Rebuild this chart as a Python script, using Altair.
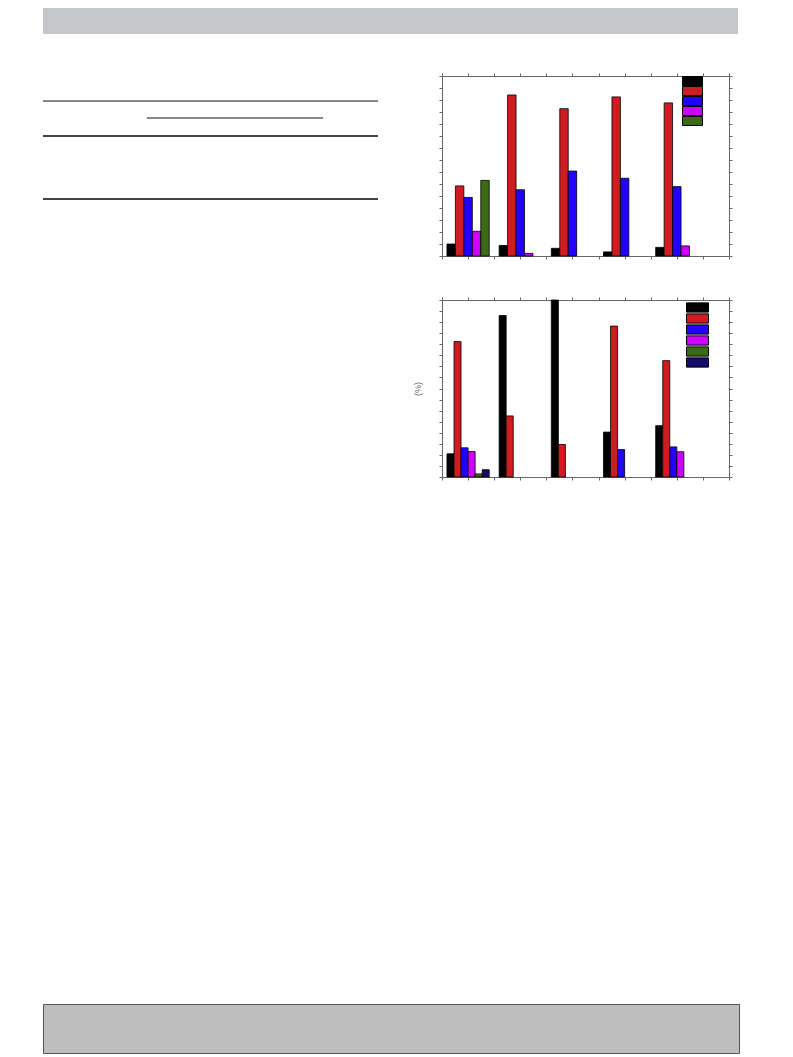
import altair as alt
import pandas as pd

# ---------------- data ----------------
groups = [1, 2, 3, 4, 5]

# upper panel (5 series, %)
top_names = ["S1", "S2", "S3", "S4", "S5"]
top_colors = ["#000000", "#d01c20", "#2400ff", "#cc00ff", "#3a6b14"]
top_black = [5.0, 4.4, 3.2, 1.7, 3.6]
top_red = [29.2, 67.1, 61.4, 66.3, 63.8]
top_blue = [24.4, 27.6, 35.4, 32.4, 28.9]
top_magenta = [10.3, 1.1, 0, 0, 4.2]
top_green = [31.5, 0, 0, 0, 0]

# lower panel (6 series, %)
bot_names = ["T1", "T2", "T3", "T4", "T5", "T6"]
bot_colors = ["#000000", "#d01c20", "#2400ff", "#cc00ff", "#3a6b14", "#140b6c"]
bot_black = [10.5, 73.0, 80.0, 20.3, 23.2]
bot_red = [61.2, 27.6, 14.7, 68.2, 52.6]
bot_blue = [13.2, 0, 0, 12.4, 13.6]
bot_magenta = [11.5, 0, 0, 0, 11.4]
bot_green = [1.4, 0, 0, 0, 0]
bot_navy = [3.3, 0, 0, 0, 0]

x_ticks = [0.5 * i for i in range(1, 13)]
top_y_ticks = list(range(0, 80, 5))
bot_y_ticks = list(range(0, 85, 5))

# rules of the (text-less) table on the left
rule_pos = [25, 42, 60, 123]
rule_from = [0.0, 0.31, 0.0, 0.0]
rule_to = [1.0, 0.836, 1.0, 1.0]
rule_kind = ["thin", "thin", "thick", "thick"]

GROUP_SPAN = 0.81


def long_table(names, series):
    rows = []
    n = len(series)
    w = GROUP_SPAN / n
    for k, (name, vals) in enumerate(zip(names, series)):
        for g, v in zip(groups, vals):
            if v > 0:
                x0 = g - GROUP_SPAN / 2 + k * w
                rows.append({"g": g, "series": name, "v": v, "x0": x0, "x1": x0 + w})
    return pd.DataFrame(rows)


df_top = long_table(top_names, [top_black, top_red, top_blue, top_magenta, top_green])
df_bot = long_table(bot_names, [bot_black, bot_red, bot_blue, bot_magenta, bot_green, bot_navy])

FRAME = "#666666"
TICK = "#666666"


def axis(orient, values, title=None):
    kw = dict(orient=orient, values=values, labels=False, domain=False, grid=False,
              ticks=True, tickSize=3, tickColor=TICK, tickWidth=1)
    if title is None:
        kw["title"] = None
    else:
        kw.update(title=title, titleFont="Liberation Sans", titleFontSize=9,
                  titleFontWeight="normal", titleColor="#666666", titlePadding=16)
    return alt.Axis(**kw)


def panel(df, names, colors, ymax, yticks, width, height, lx, ly, sym_path, sym_size, clip_h, ytitle=None):
    xs = alt.Scale(domain=[0.5, 6.0], nice=False, zero=False)
    ys = alt.Scale(domain=[0, ymax], nice=False, zero=True)
    bars = alt.Chart(df).mark_rect(stroke="#000000", strokeWidth=0.8).encode(
        x=alt.X("x0:Q", scale=xs, axis=axis("bottom", x_ticks)),
        x2="x1:Q",
        y=alt.Y("v:Q", scale=ys, axis=axis("left", yticks, ytitle)),
        y2=alt.datum(0),
        color=alt.Color("series:N",
                        scale=alt.Scale(domain=names, range=colors),
                        legend=alt.Legend(orient="none", legendX=lx, legendY=ly, title=None,
                                          labelExpr="''", symbolType=sym_path, symbolSize=sym_size,
                                          symbolStrokeColor="#000000", symbolStrokeWidth=1,
                                          symbolOpacity=1, rowPadding=0, padding=0,
                                          clipHeight=clip_h,
                                          labelFontSize=1, labelLimit=1, labelOffset=0)),
    )
    mirror = alt.Chart(df).mark_point(opacity=0).encode(
        x=alt.X("x0:Q", scale=xs, axis=axis("top", x_ticks)),
        y=alt.Y("v:Q", scale=ys, axis=axis("right", yticks)),
    )
    return alt.layer(bars, mirror).resolve_axis(x="independent", y="independent").properties(
        width=width, height=height, view=alt.ViewBackground(stroke=FRAME, strokeWidth=1)
    )


def spacer(w, h):
    return alt.Chart(alt.Data(values=[])).mark_point(opacity=0).encode(
        x=alt.value(0), y=alt.value(0)
    ).properties(width=w, height=h)


def box(w, h, fill, stroke=None):
    vb = alt.ViewBackground(fill=fill, stroke=stroke, strokeWidth=1) if stroke else alt.ViewBackground(fill=fill)
    return alt.Chart(alt.Data(values=[])).mark_point(opacity=0).encode(
        x=alt.value(0), y=alt.value(0)
    ).properties(width=w, height=h, view=vb)


top_chart = panel(df_top, top_names, top_colors, 75, top_y_ticks, 287, 180,
                  240, 0, "M-1,-0.45H1V0.45H-1Z", 400, 10)
bot_chart = panel(df_bot, bot_names, bot_colors, 80, bot_y_ticks, 287, 177,
                  244, 2, "M-1,-0.42H1V0.42H-1Z", 484, 11, ytitle="(%)")

rules_df = pd.DataFrame({"pos": rule_pos, "a": rule_from, "b": rule_to, "kind": rule_kind})
ty = alt.Y("pos:Q", scale=alt.Scale(domain=[0, 130], reverse=True, nice=False), axis=None)
tx = alt.X("a:Q", scale=alt.Scale(domain=[0, 1], nice=False), axis=None)
thin_rules = alt.Chart(rules_df).transform_filter(alt.datum.kind == "thin").mark_rule(
    color="#111111", strokeWidth=1).encode(y=ty, x=tx, x2="b:Q")
thick_rules = alt.Chart(rules_df).transform_filter(alt.datum.kind == "thick").mark_rule(
    color="#444444", strokeWidth=1.8).encode(y=ty, x=tx, x2="b:Q")
table = alt.layer(thin_rules, thick_rules).properties(width=335, height=130)

right_col = alt.vconcat(top_chart, bot_chart, spacing=44, bounds="flush").resolve_scale(
    color="independent").resolve_legend(color="independent")

row_a = alt.hconcat(spacer(35, 26), box(695, 26, "#c5c6ca"), spacing=0, bounds="flush")
row_b = alt.hconcat(spacer(35, 1), table, spacer(64, 1), right_col, spacing=0, bounds="flush")
row_c = alt.hconcat(spacer(35, 49), box(696, 49, "#bebebe", "#555555"), spacing=0, bounds="flush")

chart = alt.vconcat(row_a, spacer(1, 38), row_b, spacer(1, 522), row_c,
                    spacing=0).properties(padding=0).configure_view(stroke=None)

chart.save("out.html", embed_options={"renderer": "svg", "actions": False})
